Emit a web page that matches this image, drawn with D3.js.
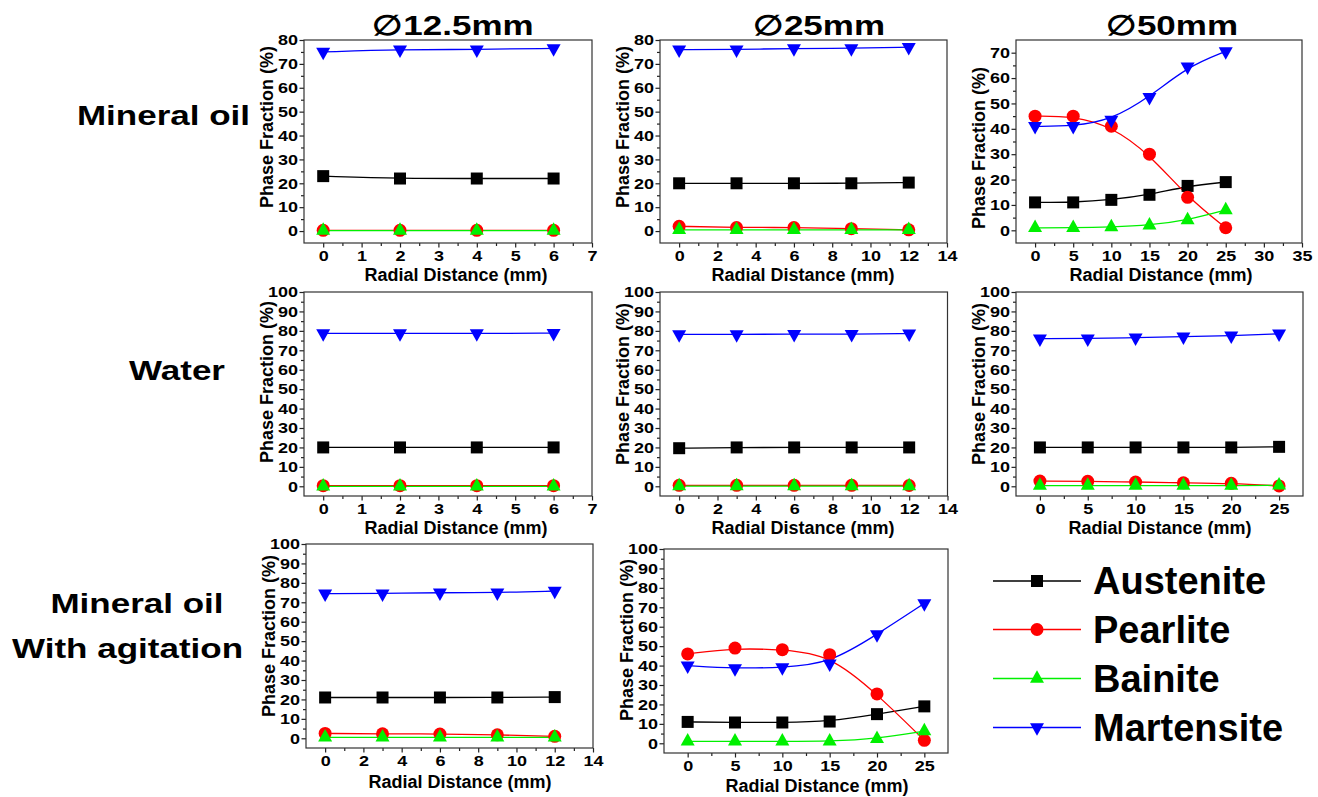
<!DOCTYPE html>
<html><head><meta charset="utf-8">
<script src="https://cdn.jsdelivr.net/npm/d3@7"></script>
<style>
body{margin:0;background:#fff}
svg{display:block}
text{font-family:"Liberation Sans",Arial,sans-serif;font-weight:bold;fill:#000}
</style>
</head><body>
<svg id="chart" width="1318" height="797"></svg>
<script>
// ---------- DATA ----------
const phases = ["Austenite", "Pearlite", "Bainite", "Martensite"];
const columnTitles = ["\u220512.5mm", "\u220525mm", "\u220550mm"];
const rowLabels = [["Mineral oil"], ["Water"], ["Mineral oil", "With agitation"]];
const xLabel = "Radial Distance (mm)";
const yLabel = "Phase Fraction (%)";

const dist125 = [0, 2, 4, 6];
const dist25 = [0, 3, 6, 9, 12];
const dist50 = [0, 5, 10, 15, 20, 25];

// series in the order of `phases`
const oil125 = [[23, 22, 22, 22], [0.3, 0.3, 0.3, 0.3], [0.2, 0.2, 0.2, 0.2], [75, 76, 76, 76.5]];
const oil25 = [[20, 20, 20, 20, 20.3], [2, 1.5, 1.5, 1, 0.5], [0.5, 0.5, 0.5, 0.5, 0.5], [76, 76, 76.5, 76.5, 77]];
const oil50 = [[11, 11, 12, 14, 17.5, 19], [45, 45, 41, 30, 13, 1], [1, 1, 1.3, 2, 4, 8], [41, 41, 43.5, 52.5, 64.5, 70.5]];
const water125 = [[20, 20, 20, 20], [0.3, 0.3, 0.3, 0.3], [0, 0, 0, 0], [78.7, 78.7, 78.7, 78.8]];
const water25 = [[19.6, 20, 20, 20, 20], [0.5, 0.5, 0.5, 0.5, 0.4], [0.1, 0.1, 0.1, 0.1, 0.1], [78.2, 78.2, 78.3, 78.3, 78.6]];
const water50 = [[20, 20, 20, 20, 20, 20.3], [2.7, 2.6, 2.2, 1.8, 1.5, 0.2], [0.3, 0.3, 0.3, 0.3, 0.3, 0.5], [76, 76, 76.5, 77, 77.5, 78.5]];
const agit25 = [[21, 21, 21, 21, 21.2], [2.5, 2.3, 2.2, 1.8, 1], [0.5, 0.5, 0.5, 0.5, 0.5], [74.5, 74.5, 75, 75, 75.8]];
const agit50 = [[11, 10.7, 10.7, 11.2, 15, 19], [46, 49, 48.2, 45.6, 25.4, 1.5], [1, 1, 1, 1, 2.3, 6.3], [40, 38.5, 39, 41, 56, 72]];

const xTicks7 = [0, 1, 2, 3, 4, 5, 6, 7];
const xTicks14 = [0, 2, 4, 6, 8, 10, 12, 14];
const xTicks35 = [0, 5, 10, 15, 20, 25, 30, 35];
const xTicks25 = [0, 5, 10, 15, 20, 25];
const yTicks80 = [0, 10, 20, 30, 40, 50, 60, 70, 80];
const yTicks70 = [0, 10, 20, 30, 40, 50, 60, 70];
const yTicks100 = [0, 10, 20, 30, 40, 50, 60, 70, 80, 90, 100];

// ---------- STYLE / LAYOUT ----------
const colors = ["#000000", "#ff0000", "#00f000", "#0000ff"];
const panels = [
  {x: dist125, s: oil125, L: 304, R: 592, T: 40, B: 243, xd: [-0.5, 7], xt: xTicks7, xm: 0.5, yd: [-5, 80], yt: yTicks80, ylY: 127, xlX: 456, xlOff: 37.5},
  {x: dist25, s: oil25, L: 660, R: 947, T: 40, B: 243, xd: [-1, 14], xt: xTicks14, xm: 1, yd: [-5, 80], yt: yTicks80, ylY: 127, xlX: 803, xlOff: 37.5},
  {x: dist50, s: oil50, L: 1016, R: 1302, T: 40, B: 243, xd: [-2.5, 35], xt: xTicks35, xm: 2.5, yd: [-5, 75], yt: yTicks70, ylY: 148, xlX: 1161, xlOff: 37.5},
  {x: dist125, s: water125, L: 304, R: 592, T: 292, B: 496, xd: [-0.5, 7], xt: xTicks7, xm: 0.5, yd: [-5, 100], yt: yTicks100, ylY: 382, xlX: 456, xlOff: 37.5},
  {x: dist25, s: water25, L: 660, R: 947.5, T: 292, B: 496, xd: [-1, 14], xt: xTicks14, xm: 1, yd: [-5, 100], yt: yTicks100, ylY: 384, xlX: 803, xlOff: 37.5},
  {x: dist50, s: water50, L: 1016, R: 1303, T: 292, B: 496, xd: [-2.5, 27.5], xt: xTicks25, xm: 2.5, yd: [-5, 100], yt: yTicks100, ylY: 384, xlX: 1160, xlOff: 37.5},
  {x: dist25, s: agit25, L: 306, R: 593, T: 544, B: 748, xd: [-1, 14], xt: xTicks14, xm: 1, yd: [-5, 100], yt: yTicks100, ylY: 636, xlX: 460, xlOff: 40},
  {x: dist50, s: agit50, L: 664, R: 948, T: 549, B: 753, xd: [-2.5, 27.5], xt: xTicks25, xm: 2.5, yd: [-5, 100], yt: yTicks100, ylY: 640, xlX: 817, xlOff: 38.5}
];

const svg = d3.select("#chart");

function markerPath(i) {
  const p = d3.path();
  if (i === 0) { p.rect(-6, -6, 12, 12); }
  else if (i === 1) { p.arc(0, 0, 6.5, 0, 2 * Math.PI); }
  else if (i === 2) { const w = 14, h = 12.5; p.moveTo(0, -2 * h / 3); p.lineTo(w / 2, h / 3); p.lineTo(-w / 2, h / 3); p.closePath(); }
  else { const w = 14, h = 12.5; p.moveTo(0, 2 * h / 3); p.lineTo(w / 2, -h / 3); p.lineTo(-w / 2, -h / 3); p.closePath(); }
  return p.toString();
}

function stext(g, x, y, str, size, sx, anchor) {
  return g.append("text")
    .attr("transform", `translate(${x},${y}) scale(${sx},1)`)
    .attr("text-anchor", anchor)
    .style("font-size", size + "px")
    .text(str);
}

const TS = 1.2; // horizontal text stretch of tick labels

panels.forEach(p => {
  const g = svg.append("g");
  const x = d3.scaleLinear().domain(p.xd).range([p.L, p.R]);
  const y = d3.scaleLinear().domain(p.yd).range([p.B, p.T]);

  const xMinor = d3.range(p.xd[0], p.xd[1] + 1e-9, p.xm).filter(v => !p.xt.includes(v) && v > p.xd[0] + 1e-9 && v < p.xd[1] - 1e-9);
  const yMinor = d3.range(p.yd[0], p.yd[1] + 1e-9, 5).filter(v => !p.yt.includes(v) && v > p.yd[0] + 1e-9 && v < p.yd[1] - 1e-9);

  const gxm = g.append("g").attr("transform", `translate(0,${p.B})`)
    .call(d3.axisBottom(x).tickValues(xMinor).tickSize(3).tickFormat(""));
  const gym = g.append("g").attr("transform", `translate(${p.L},0)`)
    .call(d3.axisLeft(y).tickValues(yMinor).tickSize(3).tickFormat(""));

  const gx = g.append("g").attr("transform", `translate(0,${p.B})`)
    .call(d3.axisBottom(x).tickValues(p.xt).tickSize(4.5).tickPadding(3));
  const gy = g.append("g").attr("transform", `translate(${p.L},0)`)
    .call(d3.axisLeft(y).tickValues(p.yt).tickSize(4.5).tickPadding(1.5));

  [gxm, gym, gx, gy].forEach(a => {
    a.select(".domain").remove();
    a.selectAll("line").attr("stroke", "#222").attr("stroke-width", 1.2);
    a.selectAll("text").attr("fill", "#000").style("font-size", "15px")
      .style("font-family", '"Liberation Sans",Arial,sans-serif').style("font-weight", "bold");
  });
  gy.selectAll("text").each(function () {
    const t = d3.select(this);
    t.attr("x", +t.attr("x") / TS).attr("transform", `scale(${TS},1)`);
  });
  gx.selectAll("text").attr("transform", `scale(${TS},1)`);

  g.append("rect").attr("x", p.L).attr("y", p.T).attr("width", p.R - p.L).attr("height", p.B - p.T)
    .attr("fill", "none").attr("stroke", "#333").attr("stroke-width", 1.2);

  stext(g, p.xlX, p.B + p.xlOff, xLabel, 18, 1, "middle");
  g.append("text")
    .attr("transform", `translate(${p.L - 31},${p.ylY}) rotate(-90)`)
    .attr("text-anchor", "middle").style("font-size", "18px").text(yLabel);

  const line = d3.line().x(d => x(d[0])).y(d => y(d[1])).curve(d3.curveBasis);
  p.s.forEach((vals, i) => {
    const pts = vals.map((v, k) => [p.x[k], v]);
    g.append("path").attr("d", line(pts)).attr("fill", "none")
      .attr("stroke", colors[i]).attr("stroke-width", 1.3);
  });
  p.s.forEach((vals, i) => {
    g.selectAll(null).data(vals.map((v, k) => [p.x[k], v])).enter()
      .append("path").attr("d", markerPath(i))
      .attr("transform", d => `translate(${x(d[0])},${y(d[1])})`)
      .attr("fill", colors[i]);
  });
});

const titleX = [453, 819, 1172];
columnTitles.forEach((t, i) => stext(svg, titleX[i], 35, t, 28, 1.25, "middle"));

stext(svg, 250, 125, rowLabels[0][0], 28, 1.25, "end");
stext(svg, 177, 380, rowLabels[1][0], 28, 1.25, "middle");
stext(svg, 137, 613, rowLabels[2][0], 28, 1.25, "middle");
stext(svg, 127.5, 658, rowLabels[2][1], 28, 1.25, "middle");

const legY = [581, 629.5, 678.5, 727.5];
phases.forEach((ph, i) => {
  const g = svg.append("g");
  g.append("line").attr("x1", 993).attr("x2", 1081).attr("y1", legY[i]).attr("y2", legY[i])
    .attr("stroke", colors[i]).attr("stroke-width", 1.3);
  g.append("path").attr("d", markerPath(i)).attr("transform", `translate(1037,${legY[i]})`).attr("fill", colors[i]);
  stext(g, 1093, legY[i] + 13, ph, 38, 1, "start");
});
</script>
</body></html>
